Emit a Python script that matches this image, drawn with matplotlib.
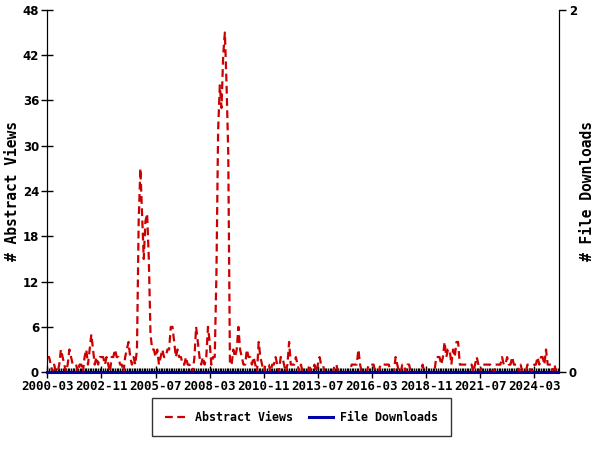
import matplotlib
matplotlib.use("Agg")
import matplotlib.pyplot as plt
import numpy as np
import pandas as pd

# monthly counts starting 2000-03
start_month = "2000-03"
abstract_views = [
    2, 2, 1, 0, 1, 0, 0, 1, 3, 2,
    1, 0, 1, 3, 2, 1, 1, 1, 0, 1,
    1, 0, 2, 3, 1, 3, 5, 3, 1, 2,
    1, 2, 2, 2, 1, 2, 1, 0, 2, 2,
    3, 2, 2, 1, 1, 0, 2, 3, 4, 2,
    1, 2, 1, 3, 20, 27, 21, 15, 20, 21,
    15, 5, 3, 3, 2, 3, 1, 2, 3, 2,
    2, 3, 3, 6, 6, 4, 2, 3, 2, 2,
    1, 1, 2, 1, 1, 0, 0, 2, 6, 4,
    2, 1, 2, 1, 2, 6, 4, 1, 2, 2,
    13, 32, 38, 35, 42, 45, 38, 29, 1, 1,
    3, 2, 3, 6, 3, 2, 1, 1, 3, 2,
    2, 1, 2, 1, 0, 4, 2, 1, 0, 1,
    1, 1, 0, 1, 1, 2, 1, 0, 2, 2,
    1, 0, 1, 4, 1, 1, 1, 2, 1, 0,
    1, 0, 0, 0, 0, 1, 0, 0, 1, 0,
    1, 2, 1, 1, 0, 0, 0, 0, 0, 0,
    1, 1, 0, 0, 0, 0, 0, 0, 0, 0,
    1, 1, 1, 1, 3, 1, 0, 0, 0, 0,
    1, 1, 1, 1, 0, 0, 0, 1, 1, 1,
    1, 1, 1, 0, 0, 0, 2, 1, 0, 0,
    1, 1, 0, 1, 1, 0, 0, 0, 0, 0,
    0, 0, 1, 0, 0, 0, 0, 0, 0, 0,
    2, 2, 2, 1, 2, 4, 2, 3, 3, 1,
    3, 2, 4, 4, 1, 1, 1, 1, 1, 1,
    1, 1, 0, 1, 2, 1, 0, 1, 1, 1,
    1, 1, 1, 0, 0, 1, 1, 1, 1, 2,
    1, 1, 2, 1, 1, 2, 1, 1, 1, 0,
    1, 0, 0, 0, 1, 1, 0, 0, 1, 1,
    2, 1, 2, 2, 1, 3, 1, 1, 1, 0,
    1, 0, 0,
]
file_downloads = [0] * len(abstract_views)

months = pd.date_range(start_month, periods=len(abstract_views), freq="MS")
x = np.arange(len(months))
tick_step = 32
tick_pos = x[::tick_step]
tick_labels = [m.strftime("%Y-%m") for m in months[::tick_step]]

mono = "DejaVu Sans Mono"
red = "#CC0000"
blue = "#0000AA"

fig = plt.figure(figsize=(6, 4.5), dpi=100)
ax = fig.add_axes([0.079, 0.173, 0.853, 0.805])
ax2 = ax.twinx()

ax.plot(x, abstract_views, color=red, lw=1.6, ls=(0, (3.5, 2)), label="Abstract Views")
ax2.plot(x, file_downloads, color=blue, lw=2.2, label="File Downloads",
         clip_on=False, zorder=5)

ax.set_xlim(0, len(x) - 0.2)
ax.set_ylim(0, 48)
ax.set_yticks(np.arange(0, 49, 6))
ax2.set_ylim(0, 2)
ax2.set_yticks([0, 2])

ax.set_xticks(tick_pos)
ax.set_xticklabels(tick_labels, fontfamily=mono, fontweight="bold", fontsize=8.9)
ax.set_xticks(x, minor=True)
ax.tick_params(axis="x", which="major", direction="inout", length=8, width=1, pad=2)
ax.tick_params(axis="x", which="minor", direction="in", length=3, width=1)
ax.tick_params(axis="y", direction="inout", length=8, width=1, labelsize=8.5, pad=2)
ax2.tick_params(axis="y", direction="out", length=5, width=1, labelsize=8.5, pad=2)
for lbl in ax.get_yticklabels() + ax2.get_yticklabels():
    lbl.set_fontweight("bold")

ax.set_ylabel("# Abstract Views", fontfamily=mono, fontweight="bold", fontsize=10.5, labelpad=2)
ax2.set_ylabel("# File Downloads", fontfamily=mono, fontweight="bold", fontsize=10.5, labelpad=2)

for a in (ax, ax2):
    a.spines["top"].set_visible(False)

h1, l1 = ax.get_legend_handles_labels()
h2, l2 = ax2.get_legend_handles_labels()
leg = fig.legend(h1 + h2, l1 + l2, loc="center", bbox_to_anchor=(0.502, 0.073),
                 ncol=2, frameon=True, fancybox=False, edgecolor="black",
                 prop={"family": mono, "weight": "bold", "size": 8.4},
                 handlelength=2.0, handletextpad=0.6, columnspacing=1.4,
                 borderpad=1.1, borderaxespad=0)
leg.get_frame().set_linewidth(1)

fig.savefig("out.png", dpi=100)
